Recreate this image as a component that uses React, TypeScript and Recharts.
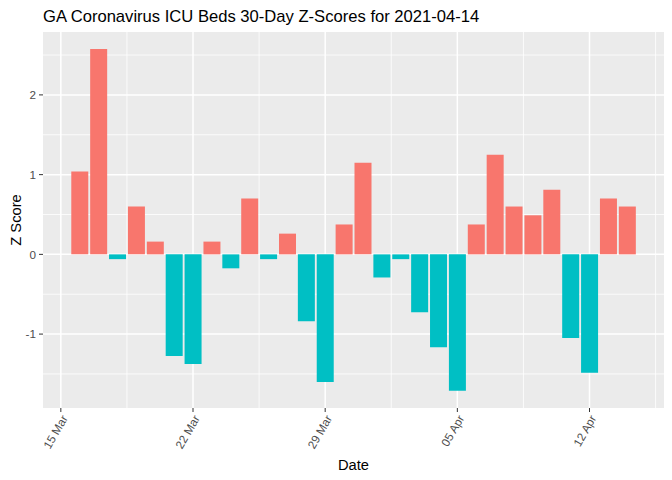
import React from "react";
import {
  BarChart,
  Bar,
  Cell,
  XAxis,
  YAxis,
  CartesianGrid,
} from "recharts";

// one bar per day, 16 Mar .. 14 Apr 2021
const dates = [
  "2021-03-16", "2021-03-17", "2021-03-18", "2021-03-19", "2021-03-20",
  "2021-03-21", "2021-03-22", "2021-03-23", "2021-03-24", "2021-03-25",
  "2021-03-26", "2021-03-27", "2021-03-28", "2021-03-29", "2021-03-30",
  "2021-03-31", "2021-04-01", "2021-04-02", "2021-04-03", "2021-04-04",
  "2021-04-05", "2021-04-06", "2021-04-07", "2021-04-08", "2021-04-09",
  "2021-04-10", "2021-04-11", "2021-04-12", "2021-04-13", "2021-04-14",
];

const zScores = [
  1.04, 2.575, -0.06, 0.6, 0.16,
  -1.275, -1.375, 0.16, -0.175, 0.7,
  -0.06, 0.26, -0.84, -1.6, 0.375,
  1.15, -0.29, -0.06, -0.725, -1.165,
  -1.71, 0.375, 1.25, 0.6, 0.49,
  0.81, -1.05, -1.485, 0.7, 0.6,
];

const tickDates = ["2021-03-15", "2021-03-22", "2021-03-29", "2021-04-05", "2021-04-12"];
const tickLabels = ["15 Mar", "22 Mar", "29 Mar", "05 Apr", "12 Apr"];

const yMajor = [-1, 0, 1, 2];
const yMinor = [-1.5, -0.5, 0.5, 1.5, 2.5];

const POS = "#F8766D";
const NEG = "#00BFC4";
const FONT = "'Liberation Sans', Arial, sans-serif";

const DAY = 86400000;
const origin = Date.parse(tickDates[0]);
const toDay = (d: string) => (Date.parse(d) - origin) / DAY;

const data = dates.map((d, i) => ({ day: toDay(d), z: zScores[i] }));
const xTicks = tickDates.map(toDay);
// minor grid halfway between the weekly ticks
const xMinor = xTicks.map((t) => t + 3.5);

function XTick(props: any) {
  const { x, y, payload } = props;
  const idx = xTicks.indexOf(payload.value);
  return (
    <text
      x={x}
      y={y}
      dy="0.72em"
      textAnchor="end"
      transform={`rotate(-60 ${x} ${y})`}
      fontSize={11.7}
      fill="#4D4D4D"
      fontFamily={FONT}
    >
      {idx >= 0 ? tickLabels[idx] : ""}
    </text>
  );
}

export default function App() {
  return (
    <div style={{ position: "absolute", left: 0, top: 0, width: 672, height: 480, background: "#fff" }}>
      <BarChart
        width={672}
        height={480}
        data={data}
        margin={{ top: 32, right: 8, bottom: 0, left: 0 }}
      >
        <CartesianGrid
          fill="#EBEBEB"
          stroke="#FFFFFF"
          strokeWidth={0.8}
          horizontalValues={yMinor}
          verticalValues={xMinor}
        />
        <CartesianGrid
          stroke="#FFFFFF"
          strokeWidth={1.5}
          horizontalValues={yMajor}
          verticalValues={xTicks}
        />
        <XAxis
          dataKey="day"
          type="number"
          domain={[-0.945, 31.945]}
          ticks={xTicks}
          interval={0}
          allowDataOverflow
          height={72}
          axisLine={false}
          tickLine={{ stroke: "#333333", strokeWidth: 1 }}
          tickSize={4}
          tickMargin={2}
          tick={<XTick />}
        />
        <YAxis
          type="number"
          domain={[-1.927, 2.789]}
          ticks={yMajor}
          allowDataOverflow
          width={43}
          axisLine={false}
          tickLine={{ stroke: "#333333", strokeWidth: 1 }}
          tickSize={4}
          tickMargin={3}
          tick={{ fontSize: 11.7, fill: "#4D4D4D", fontFamily: FONT }}
        />
        <Bar dataKey="z" barSize={17} isAnimationActive={false}>
          {data.map((d, i) => (
            <Cell key={i} fill={d.z >= 0 ? POS : NEG} />
          ))}
        </Bar>
      </BarChart>
      <svg
        width={672}
        height={480}
        style={{ position: "absolute", left: 0, top: 0, pointerEvents: "none" }}
      >
        <text x={43} y={21.5} fontSize={16.6} fill="#000" fontFamily={FONT}>
          GA Coronavirus ICU Beds 30-Day Z-Scores for 2021-04-14
        </text>
        <text
          x={353.5}
          y={470}
          fontSize={14.7}
          textAnchor="middle"
          fill="#000"
          fontFamily={FONT}
        >
          Date
        </text>
        <text
          x={20.5}
          y={220}
          fontSize={14.7}
          textAnchor="middle"
          fill="#000"
          fontFamily={FONT}
          transform="rotate(-90 20.5 220)"
        >
          Z Score
        </text>
      </svg>
    </div>
  );
}
